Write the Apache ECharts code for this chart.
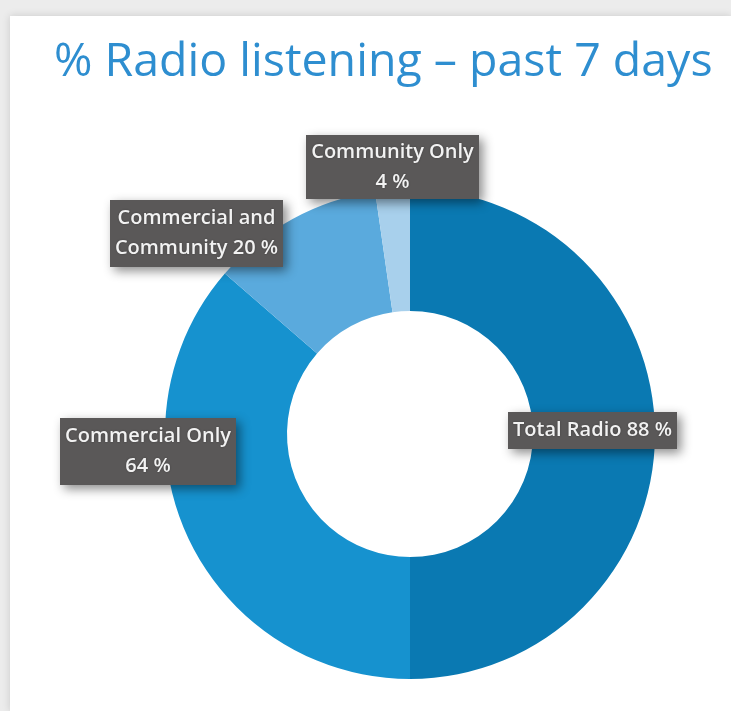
<!DOCTYPE html>
<html>
<head>
<meta charset="utf-8">
<script src="https://cdn.jsdelivr.net/npm/echarts@6/dist/echarts.min.js"></script>
<style>
html,body{margin:0;padding:0;background:#ececec;}
#frame{position:absolute;left:10px;top:16px;width:721px;height:695px;background:#fff;box-shadow:0 0 8px rgba(0,0,0,0.15);}
#chart{position:absolute;left:0;top:0;width:731px;height:711px;}
</style>
</head>
<body>
<div id="frame"></div>
<div id="chart"></div>
<script>
const titleText = "% Radio listening \u2013 past 7 days";
const categories = ["Total Radio", "Commercial Only", "Commercial and Community", "Community Only"];
const values = [88, 64, 20, 4];
const labelTexts = ["Total Radio 88 %", "Commercial Only\n64 %", "Commercial and\nCommunity 20 %", "Community Only\n4 %"];

const colors = ["#0a79b2", "#1692cf", "#5aaadd", "#a8d0ec"];
const labelBoxes = [
  {x: 508, y: 412, w: 169, h: 37, align: 'center'},
  {x: 60, y: 418, w: 176, h: 67, align: 'center'},
  {x: 110, y: 200, w: 173, h: 67, align: 'left'},
  {x: 306, y: 135, w: 173, h: 64, align: 'center'}
];

const chart = echarts.init(document.getElementById('chart'), null, {renderer: 'canvas'});
const data = categories.map((c, i) => ({
  name: c,
  value: values[i],
  itemStyle: {color: colors[i]},
  label: {
    formatter: labelTexts[i],
    width: labelBoxes[i].w - 8,
    height: labelBoxes[i].h - 8,
    align: labelBoxes[i].align,
    verticalAlign: 'middle'
  }
}));

chart.setOption({
  backgroundColor: 'transparent',
  title: {
    text: titleText,
    left: 49, top: 34,
    textStyle: {fontFamily: 'Open Sans', fontWeight: 'normal', fontSize: 46.5, color: '#2e8ed0'}
  },
  series: [{
    type: 'pie',
    center: [410, 434],
    radius: [123, 245],
    startAngle: 90,
    clockwise: true,
    avoidLabelOverlap: false,
    silent: true,
    data: data,
    labelLine: {show: false},
    label: {
      show: true,
      position: 'inside',
      color: '#f2f2f2',
      fontFamily: 'Open Sans',
      fontWeight: 600,
      fontSize: 20,
      lineHeight: 30,
      overflow: 'none',
      backgroundColor: '#5a5858',
      padding: [4, 4],
      shadowColor: 'rgba(0,0,0,0.45)',
      shadowBlur: 10,
      shadowOffsetX: 4,
      shadowOffsetY: 4,
      textShadowColor: 'rgba(0,0,0,0.3)',
      textShadowBlur: 2
    },
    labelLayout: function (p) {
      const b = labelBoxes[p.dataIndex];
      return {x: b.x + b.w / 2, y: b.y + b.h / 2, align: 'center', verticalAlign: 'middle'};
    }
  }]
});
</script>
</body>
</html>
